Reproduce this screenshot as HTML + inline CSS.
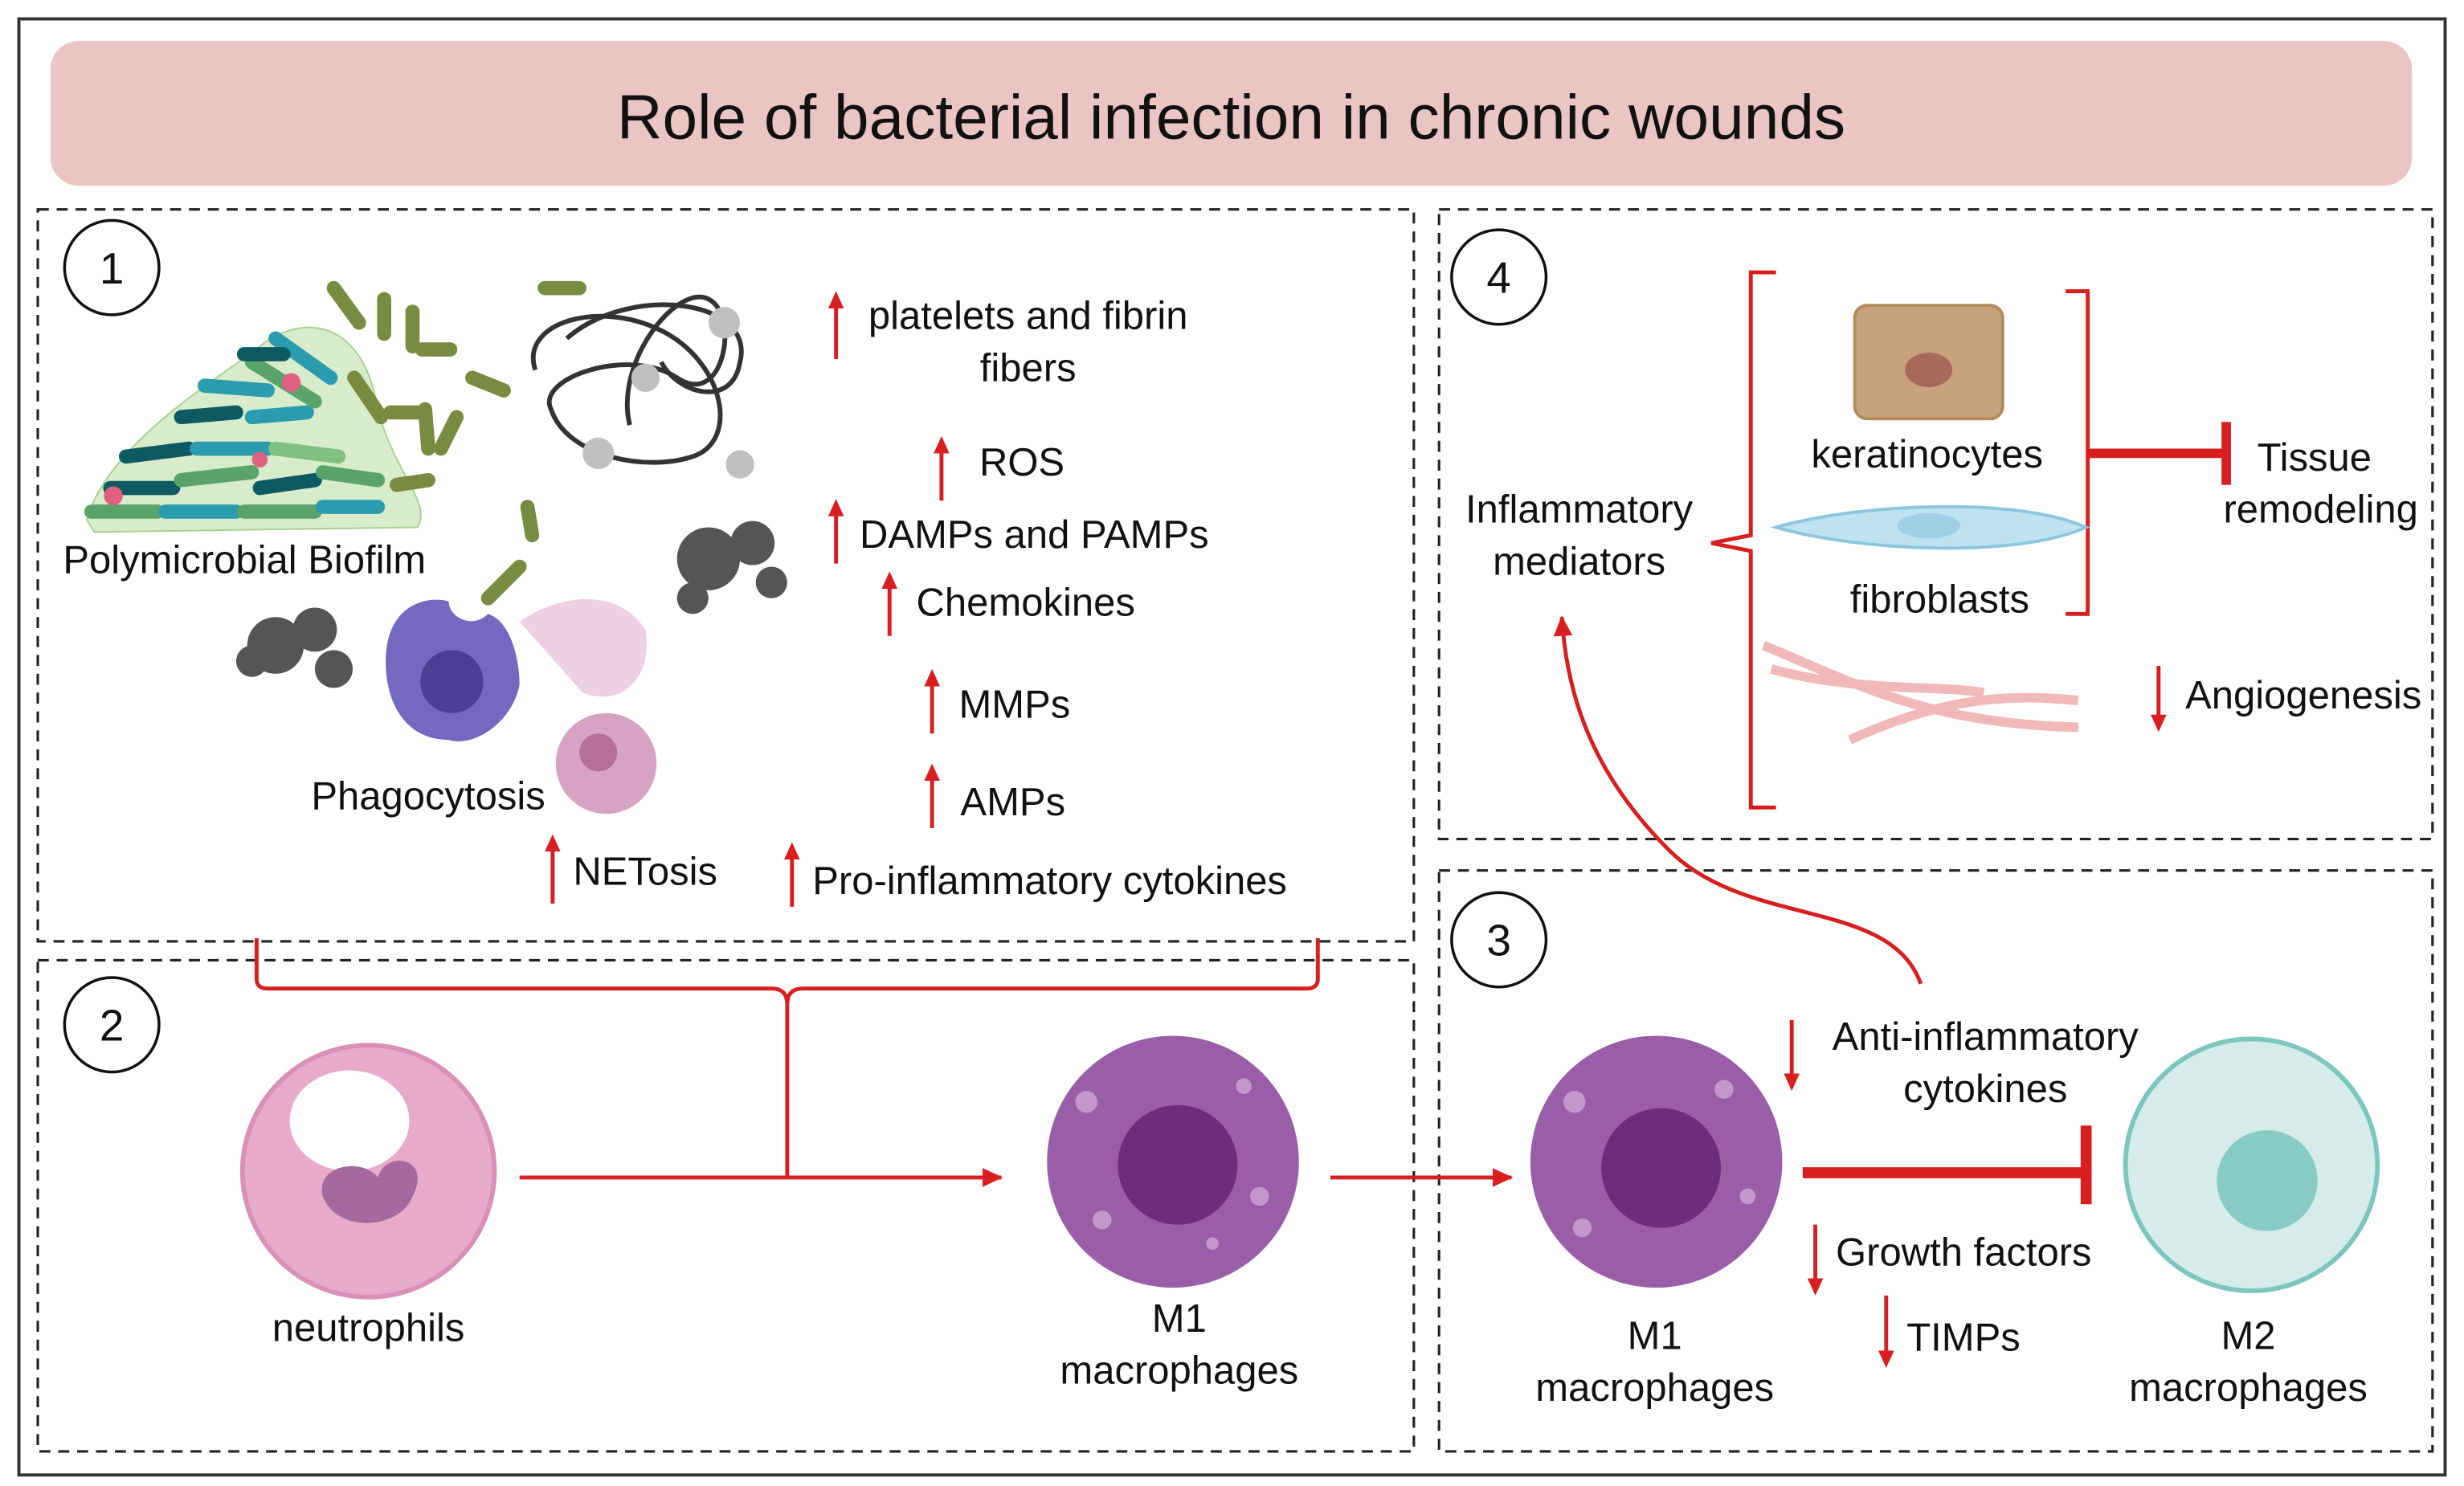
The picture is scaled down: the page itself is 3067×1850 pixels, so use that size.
<!DOCTYPE html>
<html><head><meta charset="utf-8"><style>html,body{margin:0;padding:0;background:#fff}svg{display:block}text{font-family:"Liberation Sans",sans-serif;fill:#111}</style></head><body>
<svg width="3067" height="1850" viewBox="0 0 1565 944" xmlns="http://www.w3.org/2000/svg">
<defs>
<marker id="ah" markerWidth="12" markerHeight="12" refX="8" refY="6" orient="auto" markerUnits="userSpaceOnUse"><path d="M0,1 L11,6 L0,11 z" fill="#d81e1e"/></marker>
<marker id="ah2" markerWidth="14" markerHeight="14" refX="12" refY="7" orient="auto" markerUnits="userSpaceOnUse"><path d="M0,1 L13,7 L0,13 z" fill="#d81e1e"/></marker>
</defs>
<rect x="0" y="0" width="1565" height="944" fill="#fff"/>
<rect x="12" y="12" width="1541" height="925" fill="none" stroke="#333" stroke-width="2"/>
<rect x="32" y="26" width="1500" height="92" rx="18" fill="#ebc5c4"/>
<text x="782" y="88" font-size="40" text-anchor="middle">Role of bacterial infection in chronic wounds</text>
<g fill="none" stroke="#222" stroke-width="1.6" stroke-dasharray="7,5">
<rect x="24" y="133" width="874" height="465"/>
<rect x="24" y="610" width="874" height="312"/>
<rect x="914" y="133" width="631" height="400"/>
<rect x="914" y="553" width="631" height="369"/>
</g>
<g fill="#fff" stroke="#111" stroke-width="1.8">
<circle cx="71" cy="170" r="30"/><circle cx="71" cy="651" r="30"/><circle cx="952" cy="176" r="30"/><circle cx="952" cy="597" r="30"/>
</g>
<g font-size="28" text-anchor="middle"><text x="71" y="180">1</text><text x="71" y="661">2</text><text x="952" y="186">4</text><text x="952" y="607">3</text></g>

<!-- Biofilm -->
<path d="M55,330 C70,280 140,240 165,220 C190,200 230,200 240,260 C250,300 275,320 265,335 L60,338 Z" fill="#d8eccb" stroke="#a8d090"/>
<g stroke-linecap="round" stroke-width="9">
<line x1="58" y1="325" x2="100" y2="325" stroke="#5aa36a"/><line x1="105" y1="325" x2="150" y2="325" stroke="#2b9cb0"/><line x1="155" y1="325" x2="200" y2="325" stroke="#5aa36a"/><line x1="205" y1="322" x2="240" y2="322" stroke="#2b9cb0"/>
<line x1="70" y1="310" x2="110" y2="310" stroke="#0e5a62"/><line x1="115" y1="305" x2="160" y2="300" stroke="#5aa36a"/><line x1="165" y1="310" x2="200" y2="305" stroke="#0e5a62"/><line x1="205" y1="300" x2="240" y2="305" stroke="#5aa36a"/>
<line x1="80" y1="290" x2="120" y2="285" stroke="#0e5a62"/><line x1="125" y1="285" x2="170" y2="285" stroke="#2b9cb0"/><line x1="175" y1="285" x2="215" y2="290" stroke="#80c080"/>
<line x1="115" y1="265" x2="150" y2="262" stroke="#0e5a62"/><line x1="160" y1="265" x2="195" y2="262" stroke="#2b9cb0"/><line x1="130" y1="245" x2="170" y2="248" stroke="#2b9cb0"/>
<line x1="160" y1="230" x2="200" y2="255" stroke="#5aa36a"/><line x1="175" y1="215" x2="210" y2="240" stroke="#2b9cb0"/><line x1="155" y1="225" x2="180" y2="225" stroke="#0e5a62"/>
</g>
<g fill="#e06080"><circle cx="185" cy="243" r="6"/><circle cx="72" cy="315" r="6"/><circle cx="165" cy="292" r="5"/></g>
<g stroke="#7a8a40" stroke-width="9" stroke-linecap="round">
<line x1="212" y1="183" x2="228" y2="205"/><line x1="244" y1="190" x2="244" y2="212"/><line x1="262" y1="198" x2="262" y2="220"/><line x1="268" y1="222" x2="286" y2="222"/>
<line x1="225" y1="240" x2="242" y2="265"/><line x1="248" y1="262" x2="268" y2="262"/><line x1="270" y1="260" x2="272" y2="285"/><line x1="290" y1="265" x2="280" y2="285"/>
<line x1="300" y1="240" x2="320" y2="248"/><line x1="346" y1="183" x2="368" y2="183"/><line x1="252" y1="308" x2="272" y2="305"/>
<line x1="310" y1="380" x2="330" y2="360"/><line x1="335" y1="322" x2="338" y2="340"/>
</g>
<g fill="none" stroke="#333" stroke-width="3">
<path d="M340,235 C330,205 380,190 420,210 C460,230 470,280 440,290 C410,300 360,290 350,260 C340,240 400,220 430,240 C460,260 470,200 450,190 C430,180 390,230 400,270"/>
<path d="M360,215 C400,180 480,190 470,230 C465,260 430,250 420,230"/>
</g>
<g fill="#c0c0c0"><circle cx="460" cy="205" r="10"/><circle cx="410" cy="240" r="9"/><circle cx="380" cy="288" r="10"/><circle cx="470" cy="295" r="9"/></g>
<g fill="#555"><circle cx="175" cy="410" r="18"/><circle cx="200" cy="400" r="14"/><circle cx="212" cy="425" r="12"/><circle cx="160" cy="420" r="10"/>
<circle cx="450" cy="355" r="20"/><circle cx="478" cy="345" r="14"/><circle cx="490" cy="370" r="10"/><circle cx="440" cy="380" r="10"/></g>
<path d="M245,420 C245,385 270,378 285,382 C285,392 300,400 310,390 C325,395 330,420 330,435 C325,460 300,475 285,470 C260,470 245,450 245,420 Z" fill="#7468c0"/>
<circle cx="287" cy="433" r="20" fill="#4a3e95"/>
<path d="M330,395 C350,380 390,370 410,400 C415,430 395,450 370,440 Z" fill="#e8c6dc" opacity="0.8"/>
<circle cx="385" cy="485" r="32" fill="#d7a3c3"/><circle cx="380" cy="478" r="12" fill="#b67098"/>
<text x="40" y="364" font-size="25">Polymicrobial Biofilm</text>
<text x="272" y="514" font-size="25" text-anchor="middle">Phagocytosis</text>
<g stroke="#d81e1e" stroke-width="2.5" fill="none" marker-end="url(#ah)">
<line x1="531" y1="228" x2="531" y2="188"/><line x1="598" y1="318" x2="598" y2="280"/><line x1="531" y1="358" x2="531" y2="320"/><line x1="565" y1="404" x2="565" y2="366"/>
<line x1="592" y1="466" x2="592" y2="428"/><line x1="592" y1="526" x2="592" y2="488"/><line x1="351" y1="574" x2="351" y2="533"/><line x1="503" y1="576" x2="503" y2="538"/>
</g>
<g font-size="25"><text x="653" y="209" text-anchor="middle">platelets and fibrin</text><text x="653" y="242" text-anchor="middle">fibers</text>
<text x="622" y="302">ROS</text><text x="546" y="348">DAMPs and PAMPs</text><text x="582" y="391">Chemokines</text><text x="609" y="456">MMPs</text><text x="610" y="518">AMPs</text>
<text x="364" y="562">NETosis</text><text x="516" y="568">Pro-inflammatory cytokines</text></g>

<path d="M163,596 L163,622 Q163,628 170,628 L490,628 Q500,628 500,638 Q500,628 510,628 L830,628 Q837,628 837,622 L837,596" fill="none" stroke="#d81e1e" stroke-width="2.5"/>
<line x1="500" y1="638" x2="500" y2="748" stroke="#d81e1e" stroke-width="2.5"/>
<line x1="330" y1="748" x2="636" y2="748" stroke="#d81e1e" stroke-width="2.5" marker-end="url(#ah2)"/>
<line x1="845" y1="748" x2="960" y2="748" stroke="#d81e1e" stroke-width="2.5" marker-end="url(#ah2)"/>
<circle cx="234" cy="744" r="80" fill="#e8aacb" stroke="#d890b8" stroke-width="3"/>
<ellipse cx="222" cy="712" rx="38" ry="32" fill="#fff"/>
<path d="M205,760 C200,740 230,735 240,748 C245,730 275,735 262,760 C255,780 215,785 205,760 Z" fill="#a46aa0"/>
<text x="234" y="852" font-size="25" text-anchor="middle">neutrophils</text>
<circle cx="745" cy="738" r="80" fill="#9a5ea8"/><circle cx="748" cy="740" r="38" fill="#6c2e7a"/>
<g fill="#c496cc"><circle cx="690" cy="700" r="7"/><circle cx="790" cy="690" r="5"/><circle cx="800" cy="760" r="6"/><circle cx="700" cy="775" r="6"/><circle cx="770" cy="790" r="4"/></g>
<text x="749" y="846" font-size="25" text-anchor="middle">M1</text><text x="749" y="879" font-size="25" text-anchor="middle">macrophages</text>

<circle cx="1052" cy="738" r="80" fill="#9a5ea8"/><circle cx="1055" cy="742" r="38" fill="#6c2e7a"/>
<g fill="#c496cc"><circle cx="1000" cy="700" r="7"/><circle cx="1095" cy="692" r="6"/><circle cx="1110" cy="760" r="5"/><circle cx="1005" cy="780" r="6"/></g>
<text x="1051" y="857" font-size="25" text-anchor="middle">M1</text><text x="1051" y="890" font-size="25" text-anchor="middle">macrophages</text>
<circle cx="1430" cy="740" r="80" fill="#d5ecea" stroke="#7cc6be" stroke-width="3"/><circle cx="1440" cy="750" r="32" fill="#88cbc4"/>
<text x="1428" y="857" font-size="25" text-anchor="middle">M2</text><text x="1428" y="890" font-size="25" text-anchor="middle">macrophages</text>
<line x1="1145" y1="745" x2="1322" y2="745" stroke="#d81e1e" stroke-width="7"/>
<line x1="1325" y1="715" x2="1325" y2="765" stroke="#d81e1e" stroke-width="7"/>
<g stroke="#d81e1e" stroke-width="2.5" marker-end="url(#ah)">
<line x1="1138" y1="648" x2="1138" y2="690"/><line x1="1153" y1="778" x2="1153" y2="820"/><line x1="1198" y1="823" x2="1198" y2="866"/>
</g>
<g font-size="25" text-anchor="middle"><text x="1261" y="667">Anti-inflammatory</text><text x="1261" y="700">cytokines</text></g>
<g font-size="25"><text x="1166" y="804">Growth factors</text><text x="1211" y="858">TIMPs</text></g>
<path d="M1220,625 C1200,570 1110,590 1060,540 C1010,490 995,440 992,392" fill="none" stroke="#d81e1e" stroke-width="2.5" marker-end="url(#ah2)"/>

<g font-size="25" text-anchor="middle"><text x="1003" y="332">Inflammatory</text><text x="1003" y="365">mediators</text></g>
<path d="M1128,173 L1112,173 L1112,340 L1087,345 L1112,350 L1112,513 L1128,513" fill="none" stroke="#d81e1e" stroke-width="2.5"/>
<path d="M1312,185 L1326,185 L1326,390 L1312,390" fill="none" stroke="#d81e1e" stroke-width="2.5"/>
<line x1="1326" y1="288" x2="1412" y2="288" stroke="#d81e1e" stroke-width="6"/><line x1="1414" y1="268" x2="1414" y2="308" stroke="#d81e1e" stroke-width="6"/>
<rect x="1178" y="194" width="94" height="72" rx="8" fill="#c8a27f" stroke="#b28c5c" stroke-width="2"/><ellipse cx="1225" cy="235" rx="15" ry="11" fill="#a76a5a"/>
<text x="1224" y="297" font-size="25" text-anchor="middle">keratinocytes</text>
<path d="M1128,335 C1180,320 1280,315 1325,335 C1280,355 1180,350 1128,335 Z" fill="#bfe2f0" stroke="#8cc6de" stroke-width="2"/><ellipse cx="1225" cy="334" rx="20" ry="8" fill="#9fd0e6"/>
<text x="1232" y="389" font-size="25" text-anchor="middle">fibroblasts</text>
<g fill="none" stroke="#f0b8b8" stroke-width="6"><path d="M1120,410 C1170,430 1220,460 1320,462"/><path d="M1175,470 C1230,445 1270,440 1320,445"/><path d="M1125,425 C1180,440 1230,435 1260,440"/></g>
<line x1="1371" y1="423" x2="1371" y2="462" stroke="#d81e1e" stroke-width="2.5" marker-end="url(#ah)"/>
<text x="1388" y="450" font-size="25">Angiogenesis</text>
<text x="1470" y="299" font-size="25" text-anchor="middle">Tissue</text><text x="1474" y="332" font-size="25" text-anchor="middle">remodeling</text>
</svg>
</body></html>
